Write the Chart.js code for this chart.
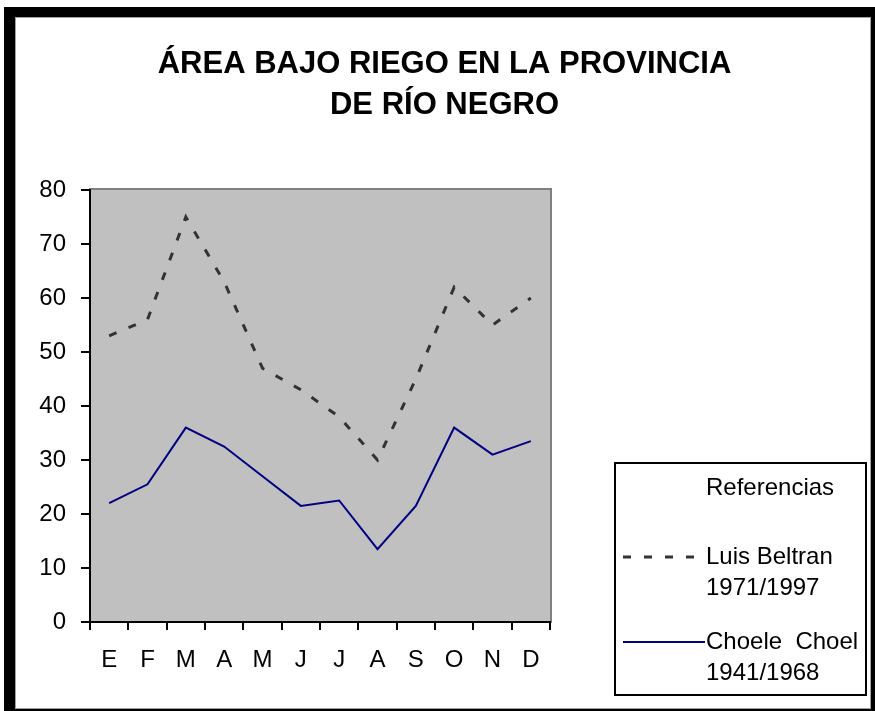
<!DOCTYPE html>
<html>
<head>
<meta charset="utf-8">
<script src="https://cdn.jsdelivr.net/npm/chart.js@4.4.0/dist/chart.umd.min.js"></script>
<style>
  body { margin: 0; background: #fff; }
  #marco { position: absolute; left: 4px; top: 7px; width: 871px; height: 704px; background: #000; }
  #interior { position: absolute; left: 11px; top: 10px; right: 4px; bottom: 2px; background: #fff; border: 1px solid #a0a0a0; }
  #grafico { position: absolute; left: 0; top: 0; }
</style>
</head>
<body>
<div id="marco"><div id="interior"></div></div>
<canvas id="grafico" width="875" height="711"></canvas>
<script>
// meses (enero..diciembre)
const meses = ['E', 'F', 'M', 'A', 'M', 'J', 'J', 'A', 'S', 'O', 'N', 'D'];
const luisBeltran = [53, 56, 75, 63, 47, 43, 38, 30, 45, 62, 55, 60];
const choeleChoel = [22, 25.5, 36, 32.5, 27, 21.5, 22.5, 13.5, 21.5, 36, 31, 33.5];
const nombreLuis = ['Luis Beltran', '1971/1997'];
const nombreChoele = ['Choele  Choel', '1941/1968'];
const tituloLineas = ['ÁREA BAJO RIEGO EN LA PROVINCIA', 'DE RÍO NEGRO'];
const tituloLeyenda = 'Referencias';
const yMin = 0, yMax = 80, yPaso = 10;

const familia = '"Liberation Sans", Arial, sans-serif';

// fondo gris del area de trazado
const fondo = {
  id: 'fondo',
  beforeDraw(chart) {
    const { ctx, chartArea: a } = chart;
    ctx.save();
    ctx.fillStyle = '#c0c0c0';
    ctx.fillRect(a.left, a.top, a.width, a.height);
    ctx.strokeStyle = '#808080';
    ctx.lineWidth = 2;
    ctx.strokeRect(a.left, a.top - 1, a.width + 1, a.height + 1);
    ctx.restore();
  }
};

// recuadro "Referencias" a la derecha
const referencias = {
  id: 'referencias',
  afterDraw(chart) {
    const { ctx, chartArea } = chart;
    const x = chartArea.right + 65, y = 463, w = 251, h = 232;
    ctx.save();
    ctx.strokeStyle = '#000';
    ctx.lineWidth = 2;
    ctx.strokeRect(x, y, w, h);
    ctx.font = '24px ' + familia;
    ctx.fillStyle = '#000';
    ctx.textBaseline = 'middle';
    ctx.fillText(tituloLeyenda, x + 91, y + 25);
    chart.data.datasets.forEach((ds, i) => {
      const ly = y + 94 + i * 85;
      ctx.save();
      ctx.strokeStyle = ds.borderColor;
      ctx.lineWidth = ds.borderWidth;
      ctx.setLineDash(ds.borderDash || []);
      ctx.beginPath();
      ctx.moveTo(x + 8, ly);
      ctx.lineTo(x + 90, ly);
      ctx.stroke();
      ctx.restore();
      ds.label.split('\n').forEach((t, j) => {
        ctx.fillText(t, x + 91, ly + j * 31);
      });
    });
    ctx.restore();
  }
};

new Chart(document.getElementById('grafico'), {
  type: 'line',
  data: {
    labels: meses,
    datasets: [
      {
        label: nombreLuis.join('\n'),
        data: luisBeltran,
        borderColor: '#333333',
        borderWidth: 3,
        borderDash: [8, 13],
        pointRadius: 0,
        tension: 0
      },
      {
        label: nombreChoele.join('\n'),
        data: choeleChoel,
        borderColor: '#000080',
        borderWidth: 2,
        pointRadius: 0,
        tension: 0
      }
    ]
  },
  options: {
    responsive: false,
    animation: false,
    layout: { padding: { left: 14 } },
    plugins: {
      legend: { display: false },
      tooltip: { enabled: false },
      title: {
        display: true,
        text: tituloLineas,
        color: '#000',
        font: { family: familia, size: 31, weight: 'bold', lineHeight: '41px' },
        padding: { top: 43.5, bottom: 64.5 }
      }
    },
    scales: {
      x: {
        offset: true,
        grid: { offset: true, drawOnChartArea: false, tickLength: 8, color: '#000', lineWidth: 2 },
        border: { color: '#000', width: 2 },
        ticks: { color: '#000', font: { family: familia, size: 24 }, padding: 16, maxRotation: 0, autoSkip: false },
        afterFit: s => { s.height = 89; }
      },
      y: {
        min: yMin,
        max: yMax,
        ticks: { stepSize: yPaso, color: '#000', font: { family: familia, size: 24 }, padding: 15 },
        grid: { drawOnChartArea: false, tickLength: 9, color: '#000', lineWidth: 2 },
        border: { color: '#000', width: 2 },
        afterFit: s => { s.width = 76; }
      },
      lado: {
        position: 'right',
        ticks: { display: false },
        grid: { display: false },
        border: { display: false },
        afterFit: s => { s.width = 325; }
      }
    }
  },
  plugins: [fondo, referencias]
});
</script>
</body>
</html>
